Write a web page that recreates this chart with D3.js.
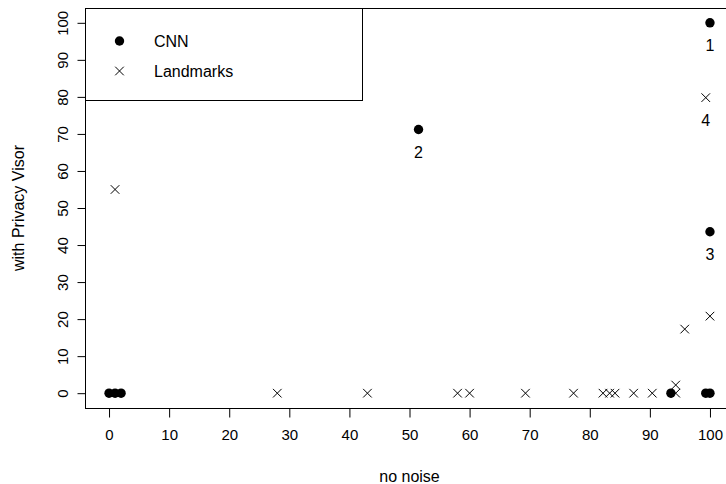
<!DOCTYPE html>
<html>
<head>
<meta charset="utf-8">
<script src="https://cdn.jsdelivr.net/npm/d3@7"></script>
<style>
  body { margin: 0; background: #fff; }
  svg { display: block; }
  text { font-family: "Liberation Sans", Arial, Helvetica, sans-serif; fill: #000; }
</style>
</head>
<body>
<div id="chart"></div>
<script>
// CNN scores (filled dots)
const cnnX = [0, 1, 2, 51.5, 100, 100, 93.5, 99.3, 100];
const cnnY = [0, 0, 0, 71.2, 100, 43.6, 0, 0, 0];

// Landmarks scores (crosses)
const lmX = [1, 28, 43, 58, 60, 69.3, 77.3, 82.2, 83.3, 84.2, 87.3, 90.4, 94.3, 94.3, 95.8, 100, 99.3];
const lmY = [55, 0, 0, 0, 0, 0, 0, 0, 0, 0, 0, 0, 0, 2.2, 17.3, 20.8, 79.8];

// numbered annotations
const noteLabels = ["1", "2", "3", "4"];
const noteX = [100, 51.5, 100, 99.3];
const noteY = [100, 71.2, 43.6, 79.8];

const xTicks = [0, 10, 20, 30, 40, 50, 60, 70, 80, 90, 100];
const yTicks = [0, 10, 20, 30, 40, 50, 60, 70, 80, 90, 100];

const legendNames = ["CNN", "Landmarks"];

const width = 726, height = 484;
const fontSize = 15;     // tick labels
const labelSize = 16;    // titles, legend, notes

const svg = d3.select("#chart").append("svg")
    .attr("width", width)
    .attr("height", height);

// R style: axis range padded 4% each side
let x = d3.scaleLinear()
  .domain([-4, 104])
  .range([85, 734]);

let y = d3.scaleLinear()
  .domain([-4, 104])
  .range([408, 8]);

// plot box (right edge falls outside the window)
svg.append("rect")
    .attr("x", x(-4) + 0.5)
    .attr("y", y(104) + 0.5)
    .attr("width", x(104) - x(-4))
    .attr("height", y(-4) - y(104))
    .attr("fill", "none")
    .attr("stroke", "#000")
    .attr("stroke-width", 1);

// x axis
let xAxis = g => g
  .attr("transform", `translate(0,${y(-4) + 0.5})`)
  .call(d3.axisBottom(x).tickValues(xTicks).tickSize(9).tickPadding(12).tickFormat(d3.format("d")))
  .call(g => g.select(".domain").attr("stroke", "none"))
  .call(g => g.selectAll("text").style("font-size", fontSize + "px").style("font-family", null));

svg.append("g").call(xAxis);

// y axis, labels turned like R's las=0
let yAxis = g => g
  .attr("transform", `translate(${x(-4) + 0.5},0)`)
  .call(d3.axisLeft(y).tickValues(yTicks).tickSize(8).tickFormat(d3.format("d")))
  .call(g => g.select(".domain").attr("stroke", "none"))
  .call(g => g.selectAll(".tick text")
      .attr("x", null).attr("dy", null)
      .attr("transform", "translate(-23,0) rotate(-90)")
      .attr("text-anchor", "middle")
      .attr("dominant-baseline", "central")
      .style("font-size", fontSize + "px").style("font-family", null));

svg.append("g").call(yAxis);

svg.selectAll(".tick line").attr("stroke", "#000");

// axis titles
svg.append("text")
    .attr("x", x(50))
    .attr("y", 476)
    .attr("text-anchor", "middle")
    .attr("dominant-baseline", "central")
    .style("font-size", labelSize + "px")
    .text("no noise");

svg.append("text")
    .attr("transform", `translate(18,${y(50)}) rotate(-90)`)
    .attr("text-anchor", "middle")
    .attr("dominant-baseline", "central")
    .style("font-size", labelSize + "px")
    .text("with Privacy Visor");

const crossPath = (cx, cy, s) =>
  `M${cx - s},${cy - s}L${cx + s},${cy + s}M${cx - s},${cy + s}L${cx + s},${cy - s}`;

// landmarks crosses
svg.append("g")
  .selectAll("path")
  .data(d3.zip(lmX, lmY))
  .join("path")
    .attr("d", d => crossPath(x(d[0]), y(d[1]), 4.3))
    .attr("stroke", "#000")
    .attr("stroke-width", 1)
    .attr("fill", "none");

// CNN dots
svg.append("g")
    .attr("fill", "#000")
  .selectAll("circle")
  .data(d3.zip(cnnX, cnnY))
  .join("circle")
    .attr("cx", d => x(d[0]))
    .attr("cy", d => y(d[1]))
    .attr("r", 4.7);

// numbered notes under points
svg.append("g")
    .style("font-size", labelSize + "px")
  .selectAll("text")
  .data(d3.zip(noteLabels, noteX, noteY))
  .join("text")
    .attr("x", d => x(d[1]))
    .attr("y", d => y(d[2]) + 23)
    .attr("text-anchor", "middle")
    .attr("dominant-baseline", "central")
    .text(d => d[0]);

// legend
const legend = svg.append("g");
legend.append("rect")
    .attr("x", x(-4) + 0.5)
    .attr("y", y(104) + 0.5)
    .attr("width", 277)
    .attr("height", 92)
    .attr("fill", "#fff")
    .attr("stroke", "#000");

legend.append("circle")
    .attr("cx", 119.5)
    .attr("cy", 41)
    .attr("r", 4.7)
    .attr("fill", "#000");

legend.append("path")
    .attr("d", crossPath(119.5, 71, 4.3))
    .attr("stroke", "#000")
    .attr("fill", "none");

legend.selectAll("text")
  .data(legendNames)
  .join("text")
    .attr("x", 154)
    .attr("y", (d, i) => 41 + i * 30)
    .attr("dominant-baseline", "central")
    .style("font-size", labelSize + "px")
    .text(d => d);
</script>
</body>
</html>
